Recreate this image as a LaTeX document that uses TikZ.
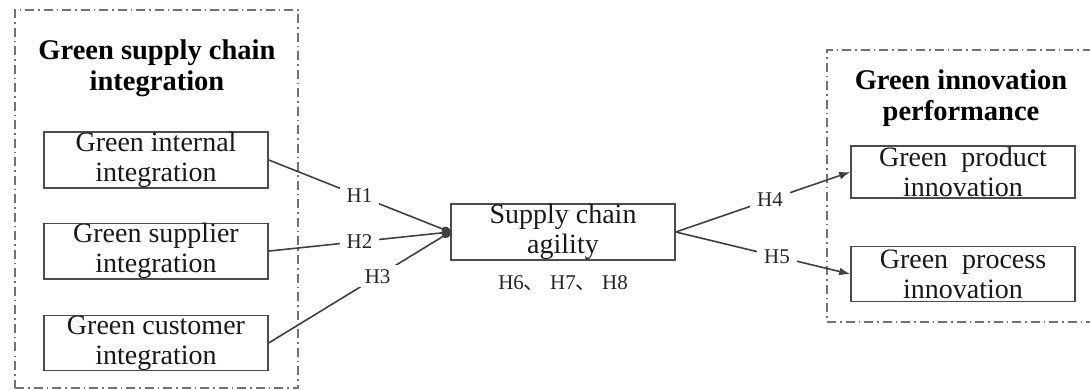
\documentclass[tikz,border=0pt]{standalone}
\usepackage{fontspec}
\setmainfont{Liberation Serif}
\newfontfamily\cjk{Noto Sans CJK SC}
\usetikzlibrary{positioning,arrows.meta}

\begin{document}
\begin{tikzpicture}[x=1pt, y=-1pt, >={Latex[length=11pt,width=8pt]},
  font=\fontsize{28}{30}\selectfont,
  group/.style={draw=black!55, line width=1.3pt, dash pattern=on 9pt off 4pt on 1.5pt off 4pt},
  title/.style={align=center, font=\fontsize{28.5}{31}\selectfont\bfseries},
  box/.style={draw=black!70, line width=1.6pt, align=center, minimum width=224pt, minimum height=55pt, inner sep=0pt, text=black!90},
  link/.style={draw=black!75, line width=1.6pt},
  hyp/.style={fill=white, inner xsep=7pt, inner ysep=4pt, text=black!85, font=\fontsize{21}{22}\selectfont}]
\useasboundingbox (0,0) rectangle (1090,390);
\clip (0,0) rectangle (1090,390);
% dashed groups
\node[group, minimum width=283pt, minimum height=378pt] (gsci) at (156.5,199) {};
\node[group, minimum width=283pt, minimum height=272pt] (gip) at (968.5,186) {};
\node[title] (gscit) at (157,68) {Green supply chain\\integration};
\node[title] (gipt) at (961,98) {Green innovation\\performance};
% constructs
\node[box] (gii) at (156,160) {Green internal\\integration};
\node[box, below=34pt of gii] (gsi) {Green supplier\\integration};
\node[box, below=35pt of gsi] (gci) {Green customer\\integration};
\node[box] (sca) at (563,232) {Supply chain\\agility};
\node[hyp, fill=none] (med) at (563,283) {H6{\cjk 、} H7{\cjk 、} H8};
\node[box, minimum height=52pt] (gpi) at (963,172) {Green~~product\\innovation};
\node[box, below=47pt of gpi] (gpri) {Green~~process\\innovation};
% paths
\draw[link, -{Ellipse[length=9pt,width=7pt]}] (gii.east) -- node[hyp, pos=.5] {H1} (sca.west);
\draw[link, -{Ellipse[length=9pt,width=7pt]}] (gsi.east) -- node[hyp, pos=.5] {H2} (sca.west);
\draw[link, -{Ellipse[length=9pt,width=7pt]}] (gci.east) -- node[hyp, pos=.6] {H3} (sca.west);
\draw[link, ->] (sca.east) -- node[hyp, pos=.54] {H4} (gpi.west);
\draw[link, ->] (sca.east) -- node[hyp, pos=.58] {H5} (gpri.west);
\end{tikzpicture}
\end{document}
